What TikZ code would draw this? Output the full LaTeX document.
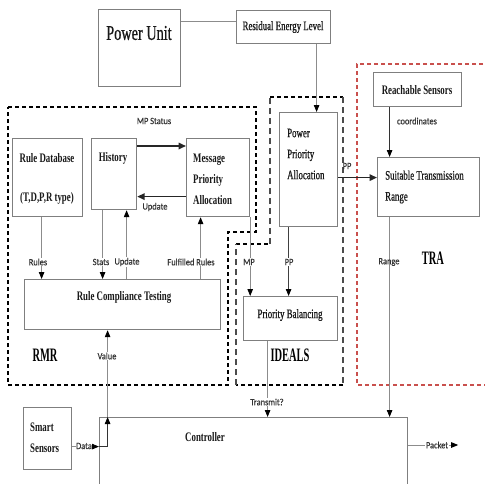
\documentclass[tikz,border=0pt]{standalone}
\usepackage{fontspec}
\setmainfont{Liberation Serif}[FakeStretch=0.68]
\newfontfamily\medfont{Liberation Serif}[FakeStretch=0.68,FakeBold=0.7]
\newfontfamily\bigfont{Liberation Serif}[FakeStretch=0.55]
\newfontfamily\lblfont{Carlito}[FakeStretch=0.88,FakeBold=0.4]
\usetikzlibrary{arrows.meta,calc}
\definecolor{boxgray}{HTML}{7F7F7F}
\definecolor{linegray}{HTML}{8C8C8C}
\definecolor{lbltext}{HTML}{333333}
\definecolor{trared}{HTML}{C9504D}
\begin{document}
\begin{tikzpicture}[x=1pt,y=-1pt,
  box/.style={draw=boxgray,line width=1.2pt,inner sep=0pt,anchor=north west},
  txt/.style={font=\fontsize{13}{21}\selectfont\medfont,inner sep=0pt,text=black!90},
  txtb/.style={font=\fontsize{13}{21}\selectfont\bfseries,inner sep=0pt,text=black!90},
  bigtxt/.style={font=\fontsize{19}{21}\selectfont\bigfont\bfseries,inner sep=0pt},
  elbl/.style={font=\fontsize{9.5}{11}\selectfont\lblfont,text=lbltext,inner sep=0.6pt,fill=white},
  tip/.style={-{Triangle[length=7pt,width=5.5pt,color=black]}},
  gline/.style={draw=linegray,line width=0.9pt},
  garr/.style={gline,tip},
  tarr/.style={draw=black!85,line width=1.6pt,-{Triangle[length=7.5pt,width=6.5pt]}},
  rmrdash/.style={draw=black,line width=1.4pt,dash pattern=on 4pt off 3pt},
  idedash/.style={draw=black!70,line width=1.4pt,dash pattern=on 6pt off 4pt},
  tradash/.style={draw=trared,line width=1.1pt,dash pattern=on 4pt off 3pt}]
\clip (0,0) rectangle (485,483);
\fill[white] (0,0) rectangle (485,483);

% module regions
\draw[rmrdash] (8,107) -- (256,107) -- (256,232) -- (228,232) -- (228,385) -- (8,385) -- cycle;
\draw[rmrdash] (270,97) -- (343,97);
\draw[rmrdash] (343,385) -- (236,385);
\draw[rmrdash] (236,244) -- (270,244);
\draw[idedash] (343,97) -- (343,385);
\draw[idedash] (236,385) -- (236,244);
\draw[idedash] (270,244) -- (270,97);
\draw[tradash] (490,64) -- (357,64) -- (357,385) -- (490,385);

% blocks
\node[box,minimum width=82pt,minimum height=77pt] (pu) at (98,9) {};
\node[box,minimum width=94pt,minimum height=33pt] (rel) at (236,10) {};
\node[box,minimum width=70pt,minimum height=78pt] (rd) at (12,138) {};
\node[box,minimum width=45pt,minimum height=71pt] (hist) at (91,138) {};
\node[box,minimum width=63pt,minimum height=78pt] (mpa) at (186,138) {};
\node[box,minimum width=196pt,minimum height=50pt] (rct) at (24,279) {};
\node[box,minimum width=58pt,minimum height=114pt] (ppa) at (279,112) {};
\node[box,minimum width=94pt,minimum height=44pt] (pb) at (243,296) {};
\node[box,minimum width=88pt,minimum height=34pt] (rs) at (373,72) {};
\node[box,minimum width=102pt,minimum height=59pt] (str) at (377,157) {};
\node[box,minimum width=48pt,minimum height=62pt] (ss) at (23,407) {};
\node[box,minimum width=308pt,minimum height=100pt] (ctrl) at (99,417) {};

% block texts
\node[txt,font=\fontsize{21}{24}\selectfont\medfont] (tpu) at (139,33) {Power Unit};
\node[txt] (trel) at (283,27) {Residual Energy Level};
\node[txtb] (trd1) at (47,158) {Rule Database};
\node[txtb] (trd2) at (47,198) {(T,D,P,R type)};
\node[txtb] (thist) at (113,158) {History};
\node[txtb,anchor=west,align=left] (tmpa) at (193,179) {Message\\Priority\\Allocation};
\node[txtb] (trct) at (124,297) {Rule Compliance Testing};
\node[txt,anchor=west,align=left] (tppa) at (287,154) {Power\\Priority\\Allocation};
\node[txt] (tpb) at (290,315) {Priority Balancing};
\node[txtb] (trs) at (417,90) {Reachable Sensors};
\node[txt,anchor=west,align=left] (tstr) at (385,187) {Suitable Transmission\\Range};
\node[txtb,anchor=west,align=left] (tss) at (30,437.5) {Smart\\Sensors};
\node[txtb] (tctrl) at (205,437) {Controller};

% module names
\node[bigtxt] (lrmr) at (45,355) {RMR};
\node[bigtxt] (lideals) at (290,355) {IDEALS};
\node[bigtxt] (ltra) at (433,258) {TRA};

% connectors
\draw[gline] ([yshift=-12pt]pu.north east) -- ([yshift=-12pt]pu.north east -| rel.west);
\draw[garr] ([xshift=33pt]rel.south) -- ([xshift=33pt]rel.south |- ppa.north);
\draw[tarr] ([yshift=-8pt]hist.north east) -- ([yshift=-8pt]hist.north east -| mpa.west);
\draw[tarr] ([yshift=-19pt]mpa.west) -- ([yshift=-19pt]mpa.west -| hist.east);
\draw[garr] ([xshift=-6pt]rd.south) -- ([xshift=-6pt]rd.south |- rct.north);
\draw[garr] ([xshift=-11.5pt]hist.south) -- ([xshift=-11.5pt]hist.south |- rct.north);
\draw[garr] ([xshift=12.5pt]hist.south |- rct.north) -- ([xshift=12.5pt]hist.south);
\draw[garr] ([xshift=-17.5pt]mpa.south |- rct.north) -- ([xshift=-17.5pt]mpa.south);
\draw[garr] (mpa.south east) -- (mpa.south east |- pb.north);
\draw[garr,draw=black!75] ([xshift=-20pt]ppa.south) -- ([xshift=-20pt]ppa.south |- pb.north);
\draw[tarr] ([yshift=-8pt]ppa.east) -- ([yshift=-8pt]ppa.east -| str.west);
\draw[garr,draw=black!80,line width=1pt] ([xshift=-28pt]rs.south) -- ([xshift=-28pt]rs.south |- str.north);
\draw[garr] ([xshift=-39pt]str.south) -- ([xshift=-39pt]str.south |- ctrl.north);
\draw[garr] ([xshift=-23pt]pb.south) -- ([xshift=-23pt]pb.south |- ctrl.north);
\coordinate (pkt) at ([xshift=50pt,yshift=-28pt]ctrl.north east);
\draw[garr] ([yshift=-28pt]ctrl.north east) -- (pkt);
\draw[garr] ([yshift=-8pt]ss.east) -- ([yshift=-8pt]ss.east -| ctrl.west);
\coordinate (dj) at ([yshift=-8pt]ss.east -| ctrl.west);
\coordinate (vj) at ([xshift=-15pt]rct.south |- ctrl.north);
\draw[garr,draw=black!80] (dj) -| (vj);
\draw[garr] (vj) -- ([xshift=-15pt]rct.south);

% connector labels
\node[elbl,fill=none] (lmps) at (154,121) {MP Status};
\node[elbl] (lupd1) at (155,207) {Update};
\node[elbl] (lrules) at (38,262) {Rules};
\node[elbl] (lstats) at (101,262) {Stats};
\node[elbl] (lupd2) at (127,262) {Update};
\node[elbl] (lful) at (191,262) {Fulfilled Rules};
\node[elbl] (lmp) at (249,262) {MP};
\node[elbl] (lpp1) at (289,262) {PP};
\node[elbl,fill=none] (lpp2) at (347,166) {PP};
\node[elbl,fill=none] (lcoord) at (417,121) {coordinates};
\node[elbl,fill=none] (lrange) at (389,262) {Range};
\node[elbl] (lvalue) at (107,356) {Value};
\node[elbl] (ltrans) at (267,402) {Transmit?};
\node[elbl] (ldata) at (84,446) {Data};
\node[elbl] (lpkt) at (437,445) {Packet};
\end{tikzpicture}
\end{document}
